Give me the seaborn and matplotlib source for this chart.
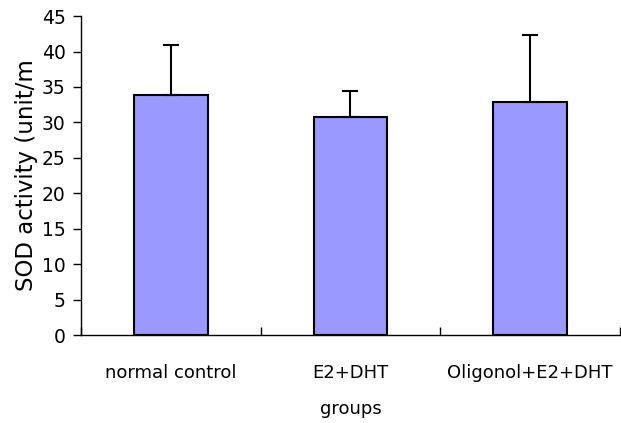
import numpy as np
import pandas as pd
import matplotlib
matplotlib.use('Agg')
import matplotlib.pyplot as plt
import seaborn as sns

# dane
groups = ['normal control', 'E2+DHT', 'Oligonol+E2+DHT']
sod_mean = [33.9, 30.8, 32.9]
sod_err = [7.0, 3.6, 9.5]

df = pd.DataFrame({'group': groups, 'sod': sod_mean})

sns.set_style('white')
plt.rcParams['font.family'] = ['DejaVu Sans']
plt.rcParams['text.color'] = 'black'
plt.rcParams['axes.labelcolor'] = 'black'
plt.rcParams['xtick.color'] = 'black'
plt.rcParams['ytick.color'] = 'black'

fig = plt.figure(figsize=(6.21, 4.23), dpi=100)
ax = fig.add_axes([0.1304, 0.208, 0.868, 0.754])

sns.barplot(data=df, x='group', y='sod', color='#9999FF', saturation=1,
            edgecolor='black', linewidth=1.5, width=0.41, errorbar=None, ax=ax)

# tylko górne słupki błędów
ax.errorbar(np.arange(len(groups)), sod_mean,
            yerr=[np.zeros(len(groups)), sod_err],
            fmt='none', ecolor='black', elinewidth=1.5, capsize=6, capthick=1.5)

ax.set_xlim(-0.5, 2.5)
ax.set_ylim(0, 45)
ax.set_yticks(range(0, 46, 5))
ax.set_xlabel('groups', fontsize=13, labelpad=13)
ax.set_ylabel('SOD activity (unit/m', fontsize=16.5, labelpad=3)

sns.despine(ax=ax)
for s in ['left', 'bottom']:
    ax.spines[s].set_color('black')
    ax.spines[s].set_linewidth(1.0)

ax.tick_params(axis='y', direction='out', length=6, width=1, labelsize=13.5, left=True, pad=5)
ax.tick_params(axis='x', which='major', length=0, labelsize=13, pad=21)
ax.set_xticks([-0.5, 0.5, 1.5, 2.5], minor=True)
ax.tick_params(axis='x', which='minor', direction='in', length=6, width=1, bottom=True)

fig.savefig('out.png', dpi=100)
